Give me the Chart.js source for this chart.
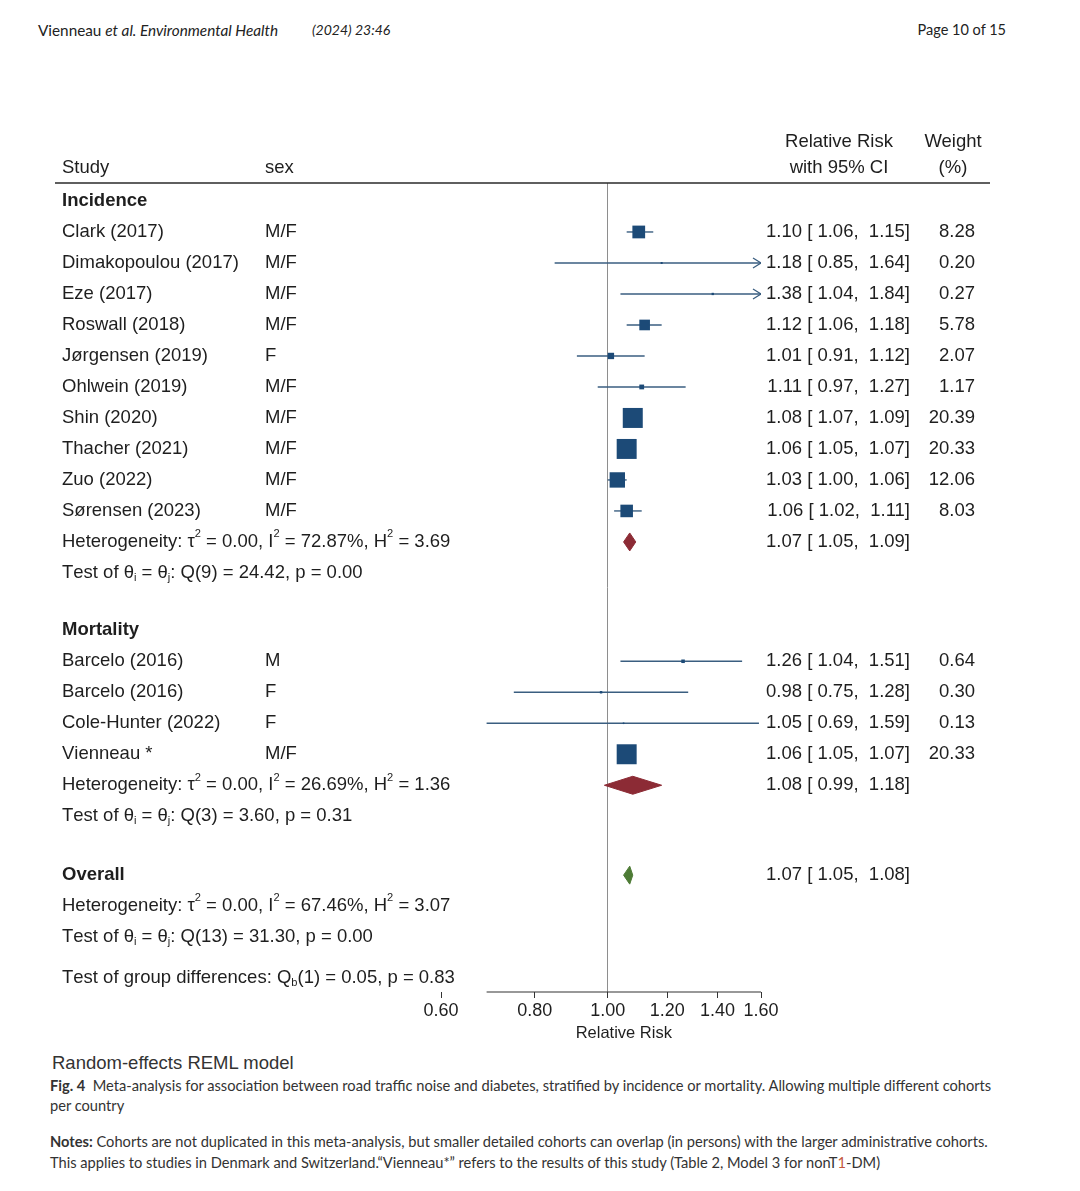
<!DOCTYPE html>
<html>
<head>
<meta charset="utf-8">
<script src="https://cdn.jsdelivr.net/npm/chart.js@4.4.1/dist/chart.umd.min.js"></script>
<style>
  body { margin: 0; background: #fff; width: 1080px; height: 1191px; position: relative; overflow: hidden; }
  .pg { position: absolute; font-family: Lato, "Open Sans", sans-serif; color: #222; }
  #chartBox { position: absolute; left: 0; top: 110px; width: 1080px; height: 942px; }
</style>
</head>
<body>
<div class="pg" style="left:38px;top:21px;font-size:15.3px">Vienneau <i>et al. Environmental Health</i></div>
<div class="pg" style="left:312px;top:21px;font-size:14px"><i>(2024) 23:46</i></div>
<div class="pg" style="right:74px;top:21px;font-size:14.5px">Page 10 of 15</div>

<div id="chartBox"><canvas id="forest" width="1080" height="942"></canvas></div>

<div class="pg" style="left:52px;top:1052px;font:18.5px 'Liberation Sans', Arial, sans-serif;color:#333">Random-effects REML model</div>
<div class="pg" style="left:50px;top:1076px;font-size:14.65px;line-height:20px;color:#333;white-space:nowrap">
  <b>Fig. 4</b>&nbsp; Meta-analysis for association between road traffic noise and diabetes, stratified by incidence or mortality. Allowing multiple different cohorts<br>per country
</div>
<div class="pg" style="left:50px;top:1131px;font-size:14.65px;line-height:21px;color:#333;white-space:nowrap">
  <b>Notes:</b> Cohorts are not duplicated in this meta-analysis, but smaller detailed cohorts can overlap (in persons) with the larger administrative cohorts.<br>This applies to studies in Denmark and Switzerland.“Vienneau*” refers to the results of this study (Table 2, Model 3 for nonT<span style="color:#c4563c">1</span>-DM)
</div>

<script>
// incidence studies
const incStudies = ['Clark (2017)', 'Dimakopoulou (2017)', 'Eze (2017)', 'Roswall (2018)', 'Jørgensen (2019)',
  'Ohlwein (2019)', 'Shin (2020)', 'Thacher (2021)', 'Zuo (2022)', 'Sørensen (2023)'];
const incSex = ['M/F', 'M/F', 'M/F', 'M/F', 'F', 'M/F', 'M/F', 'M/F', 'M/F', 'M/F'];
const incRR = [1.10, 1.18, 1.38, 1.12, 1.01, 1.11, 1.08, 1.06, 1.03, 1.06];
const incLo = [1.06, 0.85, 1.04, 1.06, 0.91, 0.97, 1.07, 1.05, 1.00, 1.02];
const incHi = [1.15, 1.64, 1.84, 1.18, 1.12, 1.27, 1.09, 1.07, 1.06, 1.11];
const incW = [8.28, 0.20, 0.27, 5.78, 2.07, 1.17, 20.39, 20.33, 12.06, 8.03];
const incPooled = [1.07, 1.05, 1.09];
const incHet = 'Heterogeneity: τ^2 = 0.00, I^2 = 72.87%, H^2 = 3.69';
const incTest = 'Test of θ_i = θ_j: Q(9) = 24.42, p = 0.00';

// mortality studies
const mortStudies = ['Barcelo (2016)', 'Barcelo (2016)', 'Cole-Hunter (2022)', 'Vienneau *'];
const mortSex = ['M', 'F', 'F', 'M/F'];
const mortRR = [1.26, 0.98, 1.05, 1.06];
const mortLo = [1.04, 0.75, 0.69, 1.05];
const mortHi = [1.51, 1.28, 1.59, 1.07];
const mortW = [0.64, 0.30, 0.13, 20.33];
const mortPooled = [1.08, 0.99, 1.18];
const mortHet = 'Heterogeneity: τ^2 = 0.00, I^2 = 26.69%, H^2 = 1.36';
const mortTest = 'Test of θ_i = θ_j: Q(3) = 3.60, p = 0.31';

// overall
const allPooled = [1.07, 1.05, 1.08];
const allHet = 'Heterogeneity: τ^2 = 0.00, I^2 = 67.46%, H^2 = 3.07';
const allTest = 'Test of θ_i = θ_j: Q(13) = 31.30, p = 0.00';
const groupTest = 'Test of group differences: Q_b(1) = 0.05, p = 0.83';

const xTicks = [0.60, 0.80, 1.00, 1.20, 1.40, 1.60];
const X_MIN = 0.6, X_MAX = 1.6;

// styles / layout
const FONT = "'Liberation Sans', Arial, sans-serif";
const TXT = '#1e1e1e';
const CI_COLOR = '#3a5e80';
const BOX_COLOR = '#1c4a77';
const RED = '#8c2b35';
const GREEN = '#4d7b35';
const BOX_MAX = 20;          // px side of the heaviest study box
const DIAMOND_H = 0.29;      // half height of pooled diamonds, in rows
const GAP = 1.85;            // rows from a group's last line to the next heading
const COL = { study: 62, sex: 265, rr: 910, wt: 975, rrHead: 839, wtHead: 953, rule0: 55, rule1: 990 };

const wMax = Math.max(...incW, ...mortW);
const fmt = v => v.toFixed(2);

// build the table rows
const rows = [];
function addGroup(name, studies, sex, rr, lo, hi, w, pooled, het, test, y0) {
  rows.push({ y: y0, kind: 'head', text: name });
  studies.forEach((s, i) => rows.push({ y: y0 + 1 + i, kind: 'study', text: s, sex: sex[i], rr: rr[i], lo: lo[i], hi: hi[i], w: w[i] }));
  const n = studies.length;
  rows.push({ y: y0 + n + 1, kind: 'pool', text: het, pooled, color: RED });
  rows.push({ y: y0 + n + 2, kind: 'note', text: test });
  return y0 + n + 2 + GAP;
}
let yNext = addGroup('Incidence', incStudies, incSex, incRR, incLo, incHi, incW, incPooled, incHet, incTest, 0);
yNext = addGroup('Mortality', mortStudies, mortSex, mortRR, mortLo, mortHi, mortW, mortPooled, mortHet, mortTest, yNext);
rows.push({ y: yNext + 0.05, kind: 'head', text: 'Overall', pooled: allPooled, color: GREEN });
rows.push({ y: yNext + 1.05, kind: 'note', text: allHet });
rows.push({ y: yNext + 2.05, kind: 'note', text: allTest });
rows.push({ y: yNext + 3.35, kind: 'note', text: groupTest });

const Y_MIN = -0.58, Y_MAX = 25.52;

// chevron used where a CI runs past the axis
const chevron = document.createElement('canvas');
chevron.width = 20; chevron.height = 12;
(function () {
  const c = chevron.getContext('2d');
  c.strokeStyle = CI_COLOR; c.lineWidth = 1.3;
  c.beginPath(); c.moveTo(2, 1); c.lineTo(10, 6); c.lineTo(2, 11); c.stroke();
})();

const studyRows = rows.filter(r => r.kind === 'study');
const poolRows = rows.filter(r => r.pooled);

const datasets = [];
studyRows.forEach(r => {
  datasets.push({
    data: [{ x: r.lo, y: r.y }, { x: Math.min(r.hi, X_MAX), y: r.y }],
    showLine: true, borderColor: CI_COLOR, borderWidth: 1.4, pointRadius: 0, order: 3
  });
});
datasets.push({
  data: studyRows.map(r => ({ x: r.rr, y: r.y, w: r.w })),
  pointStyle: 'rect',
  pointRadius: c => BOX_MAX * Math.sqrt(c.raw.w / wMax) / Math.SQRT2,
  backgroundColor: BOX_COLOR, borderWidth: 0, order: 1
});
datasets.push({
  data: studyRows.filter(r => r.hi > X_MAX).map(r => ({ x: X_MAX, y: r.y })),
  pointStyle: chevron, order: 2
});
poolRows.forEach(r => {
  const [est, lo, hi] = r.pooled;
  datasets.push({
    data: [{ x: lo, y: r.y }, { x: est, y: r.y - DIAMOND_H }, { x: hi, y: r.y }, { x: est, y: r.y + DIAMOND_H }, { x: lo, y: r.y }],
    showLine: true, fill: 'shape', backgroundColor: r.color, borderColor: r.color, borderWidth: 1, pointRadius: 0, order: 1
  });
});

// rich text: ^c superscript, _c subscript
function drawRich(ctx, str, x, y, size, weight) {
  let cx = x;
  for (let i = 0; i < str.length; i++) {
    let ch = str[i], dy = 0, s = size;
    if ((ch === '^' || ch === '_') && i + 1 < str.length) {
      dy = ch === '^' ? -size * 0.42 : size * 0.28;
      s = size * 0.6;
      ch = str[++i];
    }
    ctx.font = (weight || '') + ' ' + s + 'px ' + FONT;
    ctx.fillText(ch, cx, y + dy);
    cx += ctx.measureText(ch).width;
  }
}

const tablePlugin = {
  id: 'forestTable',
  afterDatasetsDraw(chart) {
    const { ctx, chartArea: a, scales: { x, y } } = chart;
    const S = 18.5;
    ctx.save();
    ctx.fillStyle = TXT;
    ctx.textBaseline = 'middle';
    ctx.font = S + 'px ' + FONT;
    const h1 = y.getPixelForValue(-1.9), h2 = y.getPixelForValue(-1.06);
    ctx.textAlign = 'left';
    ctx.fillText('Study', COL.study, h2);
    ctx.fillText('sex', COL.sex, h2);
    ctx.textAlign = 'center';
    ctx.fillText('Relative Risk', COL.rrHead, h1);
    ctx.fillText('with 95% CI', COL.rrHead, h2);
    ctx.fillText('Weight', COL.wtHead, h1);
    ctx.fillText('(%)', COL.wtHead, h2);

    ctx.strokeStyle = '#2a2a2a'; ctx.lineWidth = 1.5;
    ctx.beginPath(); ctx.moveTo(COL.rule0, a.top); ctx.lineTo(COL.rule1, a.top); ctx.stroke();

    // axis line covers the plotted range only; axis title centred on it
    const lowest = Math.min(...studyRows.map(r => r.lo));
    const ax0 = x.getPixelForValue(lowest), ax1 = x.getPixelForValue(X_MAX);
    ctx.lineWidth = 1.2; ctx.strokeStyle = '#333';
    ctx.beginPath(); ctx.moveTo(ax0, a.bottom); ctx.lineTo(ax1, a.bottom); ctx.stroke();
    ctx.font = '16.5px ' + FONT;
    ctx.fillText('Relative Risk', (ax0 + ax1) / 2, a.bottom + 41);

    rows.forEach(r => {
      const py = y.getPixelForValue(r.y);
      ctx.textAlign = 'left';
      drawRich(ctx, r.text, COL.study, py, S, r.kind === 'head' ? 'bold' : '');
      ctx.font = S + 'px ' + FONT;
      if (r.kind === 'study') {
        ctx.fillText(r.sex, COL.sex, py);
        ctx.textAlign = 'right';
        ctx.fillText(fmt(r.rr) + ' [ ' + fmt(r.lo) + ',  ' + fmt(r.hi) + ']', COL.rr, py);
        ctx.fillText(fmt(r.w), COL.wt, py);
      } else if (r.pooled) {
        const [est, lo, hi] = r.pooled;
        ctx.textAlign = 'right';
        ctx.fillText(fmt(est) + ' [ ' + fmt(lo) + ',  ' + fmt(hi) + ']', COL.rr, py);
      }
    });
    ctx.restore();
  }
};

new Chart(document.getElementById('forest'), {
  type: 'scatter',
  data: { datasets },
  options: {
    responsive: false,
    animation: false,
    events: [],
    layout: { padding: { left: 441, right: 319, top: 73, bottom: 0 } },
    plugins: { legend: { display: false }, tooltip: { enabled: false } },
    scales: {
      x: {
        type: 'logarithmic', min: X_MIN, max: X_MAX,
        afterBuildTicks: s => { s.ticks = xTicks.map(v => ({ value: v })); },
        afterFit: s => { s.height = 60; },
        border: { display: false },
        grid: {
          drawOnChartArea: true,
          color: c => (c.tick && c.tick.value === 1 ? '#8e8e8e' : 'rgba(0,0,0,0)'),
          tickColor: '#333', tickLength: 6, lineWidth: 1
        },
        ticks: {
          autoSkip: false, maxRotation: 0, padding: 2, color: TXT,
          font: { family: FONT, size: 18 },
          callback: v => Number(v).toFixed(2)
        },
        title: { display: false }
      },
      y: { type: 'linear', reverse: true, min: Y_MIN, max: Y_MAX, display: false }
    }
  },
  plugins: [tablePlugin]
});
</script>
</body>
</html>
